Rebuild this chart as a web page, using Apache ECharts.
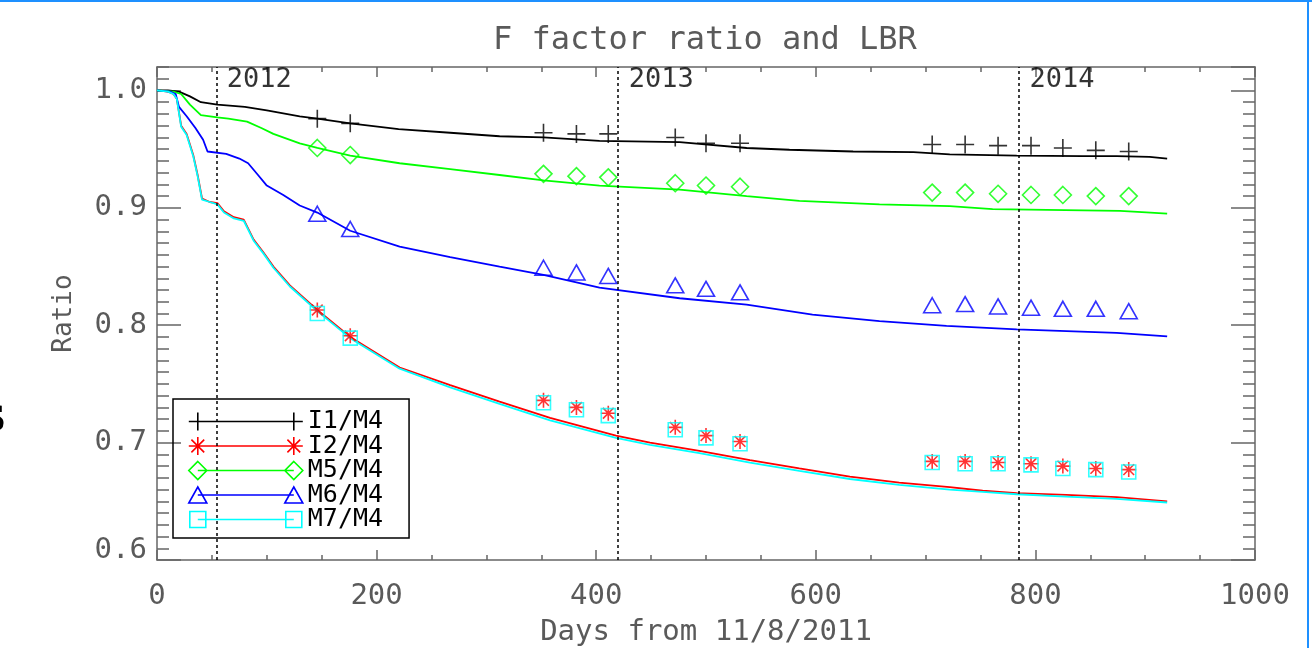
<!DOCTYPE html>
<html>
<head>
<meta charset="utf-8">
<script src="https://cdn.jsdelivr.net/npm/echarts@6/dist/echarts.min.js"></script>
<style>
  html, body { margin: 0; padding: 0; background: #fff; }
  #chart { width: 1312px; height: 652px; }
</style>
</head>
<body>
<div id="chart"></div>
<script>
// Trend curves: days since 11/8/2011 and the F factor ratio of each band to M4
const i1Days  = [0, 10, 20, 30, 40, 55, 80, 100, 130, 146, 176, 220, 267, 312, 352, 403, 476, 537, 576, 634, 689, 722, 783, 843, 874, 904, 920];
const i1Ratio = [1.000, 1.000, 0.999, 0.995, 0.990, 0.988, 0.986, 0.983, 0.978, 0.976, 0.972, 0.967, 0.964, 0.961, 0.960, 0.957, 0.956, 0.951, 0.9495, 0.948, 0.9475, 0.9455, 0.9445, 0.944, 0.944, 0.9435, 0.942];

const m5Days  = [0, 15, 22, 30, 40, 55, 65, 82, 95, 106, 130, 146, 176, 221, 267, 312, 352, 403, 476, 537, 585, 658, 722, 761, 877, 901, 920];
const m5Ratio = [1.000, 0.999, 0.997, 0.988, 0.979, 0.977, 0.976, 0.9735, 0.968, 0.963, 0.955, 0.951, 0.9445, 0.938, 0.933, 0.928, 0.9235, 0.919, 0.9155, 0.910, 0.906, 0.903, 0.9015, 0.899, 0.8975, 0.8962, 0.895];

const m6Days  = [0, 12, 17, 20, 27, 35, 42, 46, 63, 75, 83, 92, 100, 115, 130, 146, 176, 221, 267, 312, 352, 403, 476, 537, 597, 658, 719, 783, 874, 920];
const m6Ratio = [1.000, 0.999, 0.997, 0.986, 0.978, 0.968, 0.958, 0.948, 0.946, 0.942, 0.938, 0.928, 0.919, 0.911, 0.902, 0.896, 0.8805, 0.867, 0.858, 0.850, 0.843, 0.832, 0.823, 0.8175, 0.809, 0.8035, 0.7995, 0.7965, 0.7935, 0.7905];

const swirDays = [0, 10, 15, 18, 22, 27, 33, 37, 41, 48, 55, 61, 70, 79, 88, 97, 106, 121, 146, 176, 221, 267, 312, 358, 418, 449, 494, 540, 585, 631, 676, 722, 752, 783, 828, 874, 920];
const i2Ratio  = [1.000, 0.999, 0.997, 0.993, 0.970, 0.963, 0.945, 0.928, 0.908, 0.905, 0.904, 0.897, 0.892, 0.890, 0.873, 0.862, 0.850, 0.834, 0.813, 0.790, 0.764, 0.749, 0.735, 0.721, 0.706, 0.700, 0.693, 0.685, 0.678, 0.671, 0.666, 0.662, 0.659, 0.657, 0.6555, 0.6535, 0.650];
const m7Ratio  = [1.000, 0.999, 0.997, 0.993, 0.969, 0.962, 0.944, 0.927, 0.907, 0.905, 0.903, 0.896, 0.891, 0.889, 0.872, 0.861, 0.849, 0.833, 0.812, 0.789, 0.763, 0.747, 0.733, 0.719, 0.704, 0.698, 0.691, 0.683, 0.676, 0.669, 0.664, 0.660, 0.658, 0.656, 0.654, 0.652, 0.649];

// Lunar-based ratio (LBR) measurements
const lbrDays  = [146, 176, 352, 382, 411, 472, 500, 531, 706, 736, 766, 796, 825, 855, 885];
const i1Lbr    = [0.976, 0.972, 0.964, 0.963, 0.963, 0.960, 0.955, 0.955, 0.954, 0.954, 0.953, 0.953, 0.951, 0.949, 0.948];
const i2Lbr    = [0.813, 0.791, 0.736, 0.730, 0.725, 0.713, 0.706, 0.701, 0.684, 0.684, 0.683, 0.682, 0.680, 0.678, 0.677];
const m5Lbr    = [0.951, 0.945, 0.929, 0.927, 0.926, 0.921, 0.919, 0.918, 0.913, 0.913, 0.912, 0.911, 0.911, 0.910, 0.910];
const m6Lbr    = [0.895, 0.882, 0.849, 0.845, 0.842, 0.834, 0.831, 0.828, 0.817, 0.818, 0.816, 0.815, 0.814, 0.814, 0.812];
const m7Lbr    = [0.810, 0.789, 0.734, 0.728, 0.723, 0.711, 0.704, 0.699, 0.683, 0.682, 0.682, 0.681, 0.678, 0.677, 0.675];

// Year boundaries (days since 11/8/2011)
const yearStarts = [54, 420, 785];
const yearNames  = ['2012', '2013', '2014'];

const bandNames = ['I1/M4', 'I2/M4', 'M5/M4', 'M6/M4', 'M7/M4'];
const xRange = [0, 1000];
const yRange = [0.6, 1.02];

const FONT = '"DejaVu Sans Mono", monospace';
const TEXT_GREY = '#5a5a5a';
const AXIS_GREY = '#666';

const pairs = (xs, ys) => xs.map((x, i) => [x, ys[i]]);

// marker shapes
const PLUS = 'path://M0 9L18 9M9 0L9 18';
const STAR = 'path://M0 8L16 8M8 0L8 16M2.3 2.3L13.7 13.7M13.7 2.3L2.3 13.7';

// legend icons: marker, line, marker (114 x 18)
const BOX = 'M0 0M114 18';
const ICONS = {
  plus: 'path://' + BOX + 'M0 9L114 9M9 0L9 18M105 0L105 18',
  star: 'path://' + BOX + 'M9 9L105 9M0 9L18 9M9 0L9 18M2.6 2.6L15.4 15.4M15.4 2.6L2.6 15.4' +
        'M96 9L114 9M105 0L105 18M98.6 2.6L111.4 15.4M111.4 2.6L98.6 15.4',
  diamond: 'path://' + BOX + 'M9 9L105 9M9 0L18 9L9 18L0 9ZM105 0L114 9L105 18L96 9Z',
  triangle: 'path://' + BOX + 'M9 9L105 9M9 1L18 17L0 17ZM105 1L114 17L96 17Z',
  square: 'path://' + BOX + 'M9 9L105 9M1 1L17 1L17 17L1 17ZM97 1L113 1L113 17L97 17Z'
};

const bands = [
  { name: bandNames[0], color: '#000000', line: pairs(i1Days, i1Ratio),   marks: pairs(lbrDays, i1Lbr), symbol: PLUS,       size: [18, 18], icon: ICONS.plus },
  { name: bandNames[1], color: '#ff0000', line: pairs(swirDays, i2Ratio), marks: pairs(lbrDays, i2Lbr), symbol: STAR,       size: [15, 15], icon: ICONS.star },
  { name: bandNames[2], color: '#00ff00', line: pairs(m5Days, m5Ratio),   marks: pairs(lbrDays, m5Lbr), symbol: 'diamond',  size: [17, 17], icon: ICONS.diamond },
  { name: bandNames[3], color: '#0000ff', line: pairs(m6Days, m6Ratio),   marks: pairs(lbrDays, m6Lbr), symbol: 'triangle', size: [17, 15], icon: ICONS.triangle },
  { name: bandNames[4], color: '#00ffff', line: pairs(swirDays, m7Ratio), marks: pairs(lbrDays, m7Lbr), symbol: 'rect',     size: [14, 14], icon: ICONS.square }
];

const series = [];
bands.forEach((b, i) => {
  series.push({
    name: b.name, type: 'line', data: b.line, showSymbol: false, symbol: 'none',
    lineStyle: { color: b.color, width: 1.8 }, itemStyle: { color: b.color }, z: 2,
    markLine: i === 0 ? {
      silent: true, symbol: 'none', label: { show: false },
      lineStyle: { color: '#000', width: 1.5, type: [3, 3] },
      data: yearStarts.map(d => ({ xAxis: d }))
    } : undefined
  });
});
bands.forEach(b => {
  series.push({
    name: b.name, type: 'scatter', data: b.marks, symbol: b.symbol, symbolSize: b.size,
    itemStyle: { color: 'transparent', borderColor: b.color, borderWidth: 1.6 }, z: 3
  });
});
// year captions next to the boundary lines
series.push({
  name: 'years', type: 'scatter', symbolSize: 1, itemStyle: { color: 'transparent' }, silent: true,
  data: yearStarts.map((d, i) => [d, yRange[1], yearNames[i]]),
  label: {
    show: true, formatter: p => p.data[2], position: [11, 0], align: 'left', verticalAlign: 'top',
    fontFamily: FONT, fontSize: 27, color: '#000'
  }
});

const tickLine = { color: AXIS_GREY, width: 1.5 };
const xBase = {
  type: 'value', min: xRange[0], max: xRange[1], interval: 200,
  axisLine: { show: true, onZero: false, lineStyle: tickLine },
  axisTick: { show: true, inside: true, length: 10, lineStyle: tickLine },
  minorTick: { show: true, splitNumber: 4, length: 5, lineStyle: tickLine },
  splitLine: { show: false }, minorSplitLine: { show: false }
};
const yMajor = {
  type: 'value', min: yRange[0], max: yRange[1], interval: 0.1,
  axisLine: { show: true, onZero: false, lineStyle: tickLine },
  axisTick: { show: true, inside: true, length: 24, lineStyle: tickLine },
  splitLine: { show: false }, axisLabel: { show: false }
};
const yMinor = {
  type: 'value', min: yRange[0], max: yRange[1], interval: 0.01,
  axisLine: { show: false, onZero: false },
  axisTick: { show: true, inside: true, length: 12, lineStyle: tickLine },
  splitLine: { show: false }, axisLabel: { show: false }
};

const chart = echarts.init(document.getElementById('chart'), null, { renderer: 'canvas' });
chart.setOption({
  animation: false,
  backgroundColor: '#fff',
  title: {
    text: 'F factor ratio and LBR', left: 493, top: 25, padding: 0,
    textStyle: { fontFamily: FONT, fontSize: 32, fontWeight: 'normal', color: TEXT_GREY }
  },
  grid: { left: 157, right: 57, top: 67, bottom: 88, containLabel: false },
  legend: {
    orient: 'vertical', left: 173, top: 399, padding: [10, 26, 6, 15],
    itemWidth: 114, itemHeight: 18, itemGap: -0.5, selectedMode: false,
    borderColor: '#000', borderWidth: 1.5,
    textStyle: { fontFamily: FONT, fontSize: 25, color: '#000' },
    data: bands.map(b => ({
      name: b.name, icon: b.icon,
      itemStyle: { color: 'transparent', borderColor: b.color, borderWidth: 1.6 }
    }))
  },
  xAxis: [
    Object.assign({}, xBase, {
      position: 'bottom',
      axisLabel: { show: true, margin: 22, fontFamily: FONT, fontSize: 29, color: TEXT_GREY, formatter: v => String(v) },
      name: 'Days from 11/8/2011', nameLocation: 'middle', nameGap: 58,
      nameTextStyle: { fontFamily: FONT, fontSize: 29, color: TEXT_GREY }
    }),
    Object.assign({}, xBase, { position: 'top', axisLabel: { show: false } })
  ],
  yAxis: [
    Object.assign({}, yMajor, {
      position: 'left',
      axisLabel: {
        show: true, margin: 10, showMaxLabel: false, fontFamily: FONT, fontSize: 29, color: TEXT_GREY,
        formatter: v => (Math.abs(v - yRange[0]) < 1e-9 ? '{lo|' + v.toFixed(1) + '}' : v.toFixed(1)),
        rich: { lo: { fontFamily: FONT, fontSize: 29, color: TEXT_GREY, padding: [0, 0, 20, 0] } }
      },
      name: 'Ratio', nameLocation: 'middle', nameGap: 80, nameRotate: 90,
      nameTextStyle: { fontFamily: FONT, fontSize: 26, color: TEXT_GREY }
    }),
    Object.assign({}, yMinor, { position: 'left' }),
    Object.assign({}, yMajor, { position: 'right' }),
    Object.assign({}, yMinor, { position: 'right' })
  ],
  series: series.map(s => Object.assign({ xAxisIndex: 0, yAxisIndex: 0 }, s)),
  graphic: [
    { type: 'rect', shape: { x: 0, y: 0, width: 1312, height: 2 }, style: { fill: '#1e90ff' }, silent: true },
    { type: 'rect', shape: { x: 1307, y: 0, width: 2, height: 648 }, style: { fill: '#1e90ff' }, silent: true },
    { type: 'text', x: -17, y: 401, style: { text: 'S', font: 'bold 40px "Liberation Serif"', fill: '#000' }, silent: true }
  ]
});
</script>
</body>
</html>
